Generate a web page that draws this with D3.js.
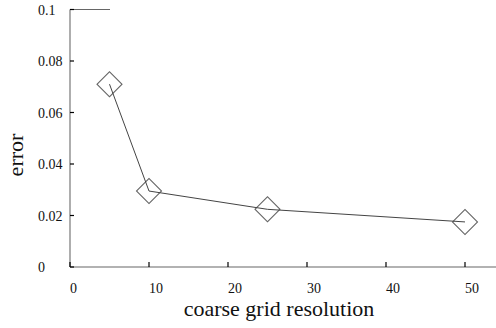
<!DOCTYPE html>
<html><head><meta charset="utf-8">
<script src="https://cdn.jsdelivr.net/npm/d3@7"></script>
<style>
html,body{margin:0;padding:0;background:#fff;}
svg{display:block;}
svg text{font-family:"Liberation Serif","Times New Roman",Times,serif !important;}
</style>
</head><body>
<svg id="c" width="496" height="328" font-family="Liberation Serif, Times New Roman, serif"></svg>
<script>
const resolution = [5, 10, 25, 50];
const errorValues = [0.071, 0.0295, 0.0224, 0.0175];
const xTicks = [0, 10, 20, 30, 40, 50];
const yTicks = [0, 0.02, 0.04, 0.06, 0.08, 0.1];
const yTickLabels = ["0", "0.02", "0.04", "0.06", "0.08", "0.1"];

const FONT = '"Liberation Serif", "Times New Roman", Times, serif';
const svg = d3.select("#c");
const x = d3.scaleLinear().domain([0, 54]).range([70, 496.6]);
const y = d3.scaleLinear().domain([0, 0.1]).range([267, 9.5]);

// axes lines
svg.append("line").attr("x1", x(0)).attr("x2", 496).attr("y1", y(0)).attr("y2", y(0))
  .attr("stroke", "#666").attr("stroke-width", 1.2);
svg.append("line").attr("x1", x(0)).attr("x2", x(0)).attr("y1", y(0)).attr("y2", y(0.1))
  .attr("stroke", "#777").attr("stroke-width", 1.2);
svg.append("line").attr("x1", x(0)).attr("x2", 110).attr("y1", y(0.1)).attr("y2", y(0.1))
  .attr("stroke", "#666").attr("stroke-width", 1.2);

// x ticks
svg.selectAll(".xt").data(xTicks).enter().append("line")
  .attr("x1", d => x(d)).attr("x2", d => x(d)).attr("y1", y(0)).attr("y2", y(0) - 5)
  .attr("stroke", "#000").attr("stroke-width", 1.2);
svg.selectAll(".xl").data(xTicks).enter().append("text")
  .attr("x", d => x(d)).attr("y", 293)
  .style("font-family", FONT).style("font-size", "14px").attr("fill", "#111")
  .text(d => d);

// y ticks
svg.selectAll(".yt").data(yTicks).enter().append("line")
  .attr("x1", x(0)).attr("x2", x(0) + 4).attr("y1", d => y(d)).attr("y2", d => y(d))
  .attr("stroke", "#000").attr("stroke-width", 1.2);
svg.selectAll(".yl").data(yTicks).enter().append("text")
  .attr("x", 38).attr("y", d => y(d) + 5)
  .style("font-family", FONT).style("font-size", "14px").attr("fill", "#111")
  .text((d, i) => yTickLabels[i]);

// titles
svg.append("text").attr("x", 279).attr("y", 316).attr("text-anchor", "middle")
  .style("font-family", FONT).style("font-size", "22px").attr("fill", "#111")
  .text("coarse grid resolution");
svg.append("text").attr("transform", "translate(23,155) rotate(-90)").attr("text-anchor", "middle")
  .style("font-family", FONT).style("font-size", "22px").attr("fill", "#111")
  .text("error");

const pts = resolution.map((r, i) => [r, errorValues[i]]);

// markers
const sym = d3.symbol().type(d3.symbolSquare).size(312);
svg.selectAll(".m").data(pts).enter().append("path")
  .attr("d", sym)
  .attr("transform", d => `translate(${x(d[0])},${y(d[1])}) rotate(45)`)
  .attr("fill", "none").attr("stroke", "#666").attr("stroke-width", 1.1);

// line
svg.append("path").datum(pts)
  .attr("d", d3.line().x(d => x(d[0])).y(d => y(d[1])))
  .attr("fill", "none").attr("stroke", "#444").attr("stroke-width", 1);
</script>
</body></html>
